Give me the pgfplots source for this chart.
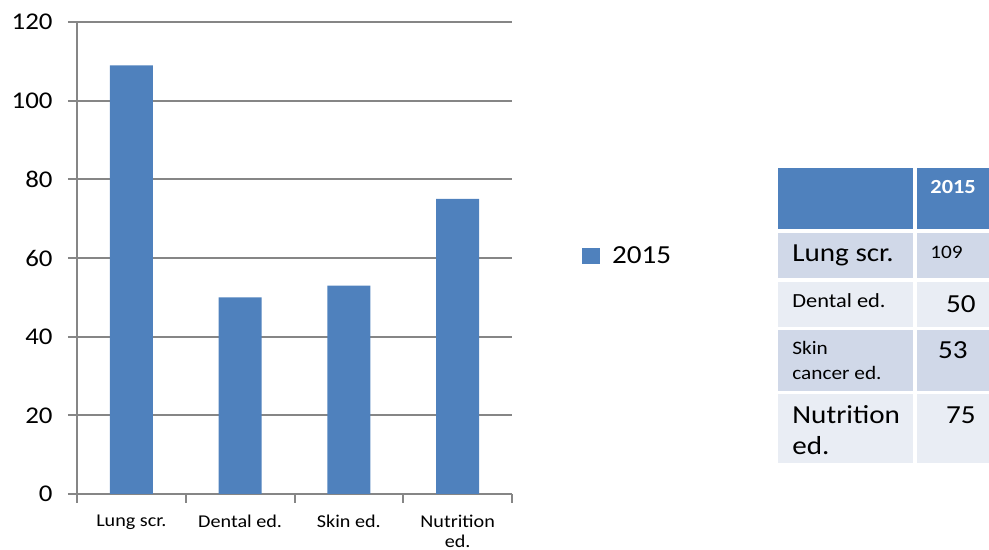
\documentclass[border=0pt]{standalone}
\usepackage{fontspec}
\setmainfont{Carlito}[FakeStretch=1.12]
\usepackage{pgfplots}
\pgfplotsset{compat=1.18}
\definecolor{barblue}{HTML}{4F81BD}
\definecolor{gridgray}{HTML}{868686}
\definecolor{rowdark}{HTML}{D0D8E8}
\definecolor{rowlight}{HTML}{E9EDF4}
\begin{document}
\begin{tikzpicture}
\path[use as bounding box] (0,0) rectangle (494.5pt,275pt);
\begin{axis}[
  at={(38.5pt,28pt)}, anchor=south west,
  scale only axis, width=217.5pt, height=236pt,
  ybar, bar width=21.5pt,
  xmin=0.5, xmax=4.5, ymin=0, ymax=120,
  ytick={0,20,...,120},
  xtick={1,2,3,4},
  xticklabels={Lung scr., Dental ed., Skin ed., {Nutrition\\ed.}},
  minor xtick={0.5,1.5,2.5,3.5,4.5},
  axis lines=left,
  axis line style={-, draw=gridgray, line width=1pt},
  tick align=outside,
  major tick length=4.5pt,
  minor tick length=4.5pt,
  major x tick style={draw=none},
  every tick/.style={gridgray, line width=1pt},
  minor tick style={gridgray, line width=1pt},
  ymajorgrids,
  grid style={gridgray, line width=1pt},
  /pgf/number format/assume math mode=true,
  yticklabel style={font=\fontsize{12}{14}\selectfont, inner sep=0pt, xshift=-7.5pt},
  xticklabel style={font=\fontsize{9}{10}\selectfont, align=center, inner sep=0pt, anchor=north, yshift=-6pt},
  legend style={at={(axis description cs:1.161,0.504)}, anchor=west, draw=none, fill=none,
    font=\fontsize{13}{15}\selectfont, inner sep=0pt},
  legend image code/.code={\fill[barblue] (0pt,-3.9pt) rectangle (8.8pt,3.9pt);},
]
\addplot[fill=barblue, draw=none] coordinates {(1,109) (2,50) (3,53) (4,75)};
\addlegendentry{\hspace{4pt}2015}
\end{axis}
\begin{scope}[x=0.5pt, y=-0.5pt, yshift=275pt]
\clip (0,0) rectangle (989,550);
\fill[barblue] (778,168) rectangle (913,229);
\fill[barblue] (917,168) rectangle (1000,229);
\fill[rowdark] (778,233) rectangle (913,278);
\fill[rowdark] (917,233) rectangle (1000,278);
\fill[rowlight] (778,282) rectangle (913,327);
\fill[rowlight] (917,282) rectangle (1000,327);
\fill[rowdark] (778,330) rectangle (913,391);
\fill[rowdark] (917,330) rectangle (1000,391);
\fill[rowlight] (778,394) rectangle (913,463);
\fill[rowlight] (917,394) rectangle (1000,463);
\node[anchor=west, inner sep=0pt, text=white, font=\bfseries\fontsize{10}{12}\selectfont] at (930,187) {2015};
\node[anchor=west, inner sep=0pt, font=\fontsize{13}{15}\selectfont] at (792,255) {Lung scr.};
\node[anchor=west, inner sep=0pt, font=\fontsize{9.5}{12}\selectfont] at (930,252) {109};
\node[anchor=west, inner sep=0pt, font=\fontsize{10}{12}\selectfont] at (792,301) {Dental ed.};
\node[anchor=east, inner sep=0pt, font=\fontsize{13}{15}\selectfont] at (976,304) {50};
\node[anchor=west, inner sep=0pt, font=\fontsize{9.5}{12}\selectfont] at (792,348) {Skin};
\node[anchor=west, inner sep=0pt, font=\fontsize{9.5}{12}\selectfont] at (792,373) {cancer ed.};
\node[anchor=east, inner sep=0pt, font=\fontsize{13}{15}\selectfont] at (968,350) {53};
\node[anchor=west, inner sep=0pt, font=\fontsize{13}{15}\selectfont] at (792,415) {Nutrition};
\node[anchor=west, inner sep=0pt, font=\fontsize{13}{15}\selectfont] at (792,446) {ed.};
\node[anchor=east, inner sep=0pt, font=\fontsize{13}{15}\selectfont] at (976,415) {75};
\end{scope}
\end{tikzpicture}
\end{document}
